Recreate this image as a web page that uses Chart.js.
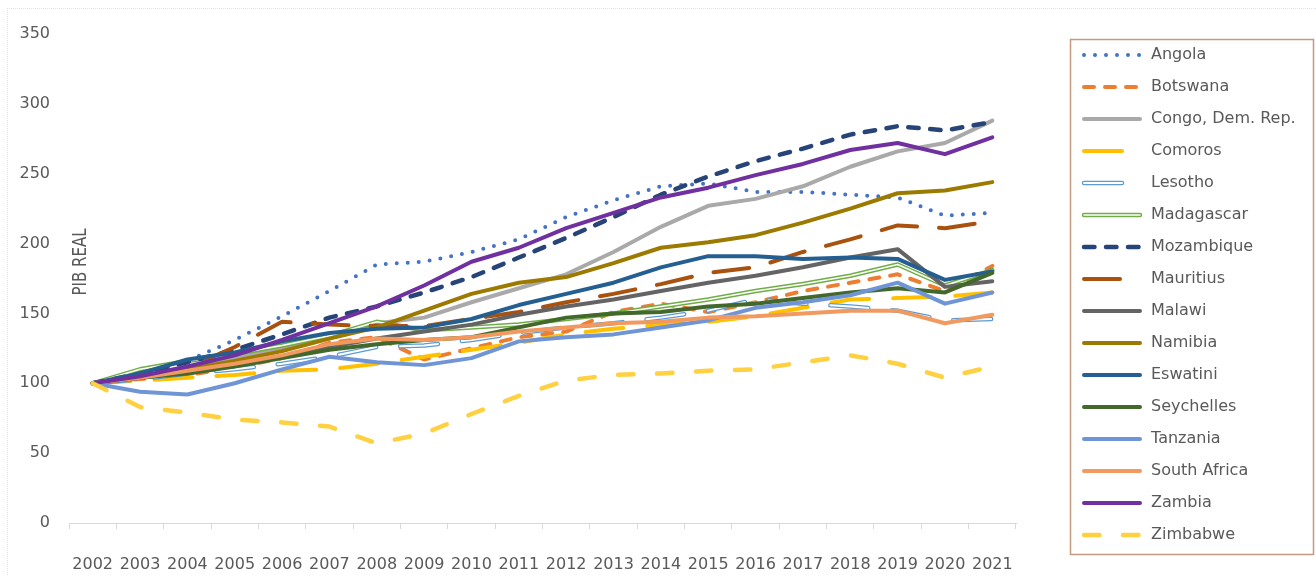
<!DOCTYPE html>
<html>
<head>
<meta charset="utf-8">
<title>PIB REAL</title>
<script src="https://cdn.jsdelivr.net/npm/chart.js@4.4.0/dist/chart.umd.min.js"></script>
<style>
  html, body { margin: 0; padding: 0; background: #fff; }
  #wrap { position: relative; width: 1316px; height: 575px; }
  #frame { position: absolute; left: 7px; top: 8px; right: 0; bottom: 0; border-left: 1px dotted #dbe5f2; border-top: 1px dotted #dbe5f2; }
  #myChart { position: relative; }
</style>
</head>
<body>
<div id="wrap"><div id="frame"></div><canvas id="myChart"></canvas></div>
<script>
var years = ["2002", "2003", "2004", "2005", "2006", "2007", "2008", "2009", "2010", "2011",
  "2012", "2013", "2014", "2015", "2016", "2017", "2018", "2019", "2020", "2021"];
var yTicks = [0, 50, 100, 150, 200, 250, 300, 350];

var angola = [100, 107, 116, 131, 148, 166, 185, 187, 194, 203, 219, 231, 241, 243, 237, 237, 235, 233, 220, 222];
var botswana = [100, 103, 106, 111, 118, 129, 133, 117, 125, 133, 137, 151, 157, 151, 158, 166, 172, 178, 166, 184];
var congo = [100, 105, 111, 118, 125, 134, 143, 147, 158, 168, 178, 194, 212, 227, 232, 241, 255, 266, 272, 288];
var comoros = [100, 102, 104, 106, 109, 110, 114, 119, 124, 129, 135, 139, 142, 144, 148, 154, 160, 161, 162, 165];
var lesotho = [100, 103, 107, 110, 114, 119, 126, 127, 131, 136, 140, 143, 147, 152, 160, 157, 155, 152, 145, 146];
var madagascar = [100, 110, 116, 121, 127, 134, 144, 138, 140, 142, 146, 150, 155, 160, 166, 171, 177, 185, 170, 181];
var mozambique = [100, 107, 115, 124, 135, 147, 155, 165, 176, 190, 204, 219, 235, 248, 259, 268, 278, 284, 281, 287];
var mauritius = [100, 104, 111, 126, 144, 142, 141, 141, 146, 151, 158, 164, 171, 179, 183, 194, 203, 213, 211, 216];
var malawi = [100, 104, 108, 113, 119, 126, 132, 137, 142, 149, 155, 160, 166, 172, 177, 183, 190, 196, 169, 173];
var namibia = [100, 105, 110, 116, 123, 132, 140, 152, 164, 172, 176, 186, 197, 201, 206, 215, 225, 236, 238, 244];
var eswatini = [100, 107, 117, 122, 130, 136, 139, 140, 146, 156, 164, 172, 183, 191, 191, 189, 190, 189, 174, 180];
var seychelles = [100, 104, 107, 112, 118, 124, 128, 131, 133, 140, 147, 150, 151, 155, 157, 161, 165, 168, 165, 179];
var tanzania = [100, 94, 92, 100, 110, 119, 115, 113, 118, 130, 133, 135, 140, 145, 154, 158, 163, 172, 157, 165];
var southAfrica = [100, 104, 109, 114, 120, 128, 132, 131, 133, 137, 140, 143, 144, 147, 148, 150, 152, 152, 143, 149];
var zambia = [100, 105, 112, 120, 131, 143, 155, 170, 187, 197, 211, 222, 233, 240, 249, 257, 267, 272, 264, 276];
var zimbabwe = [100, 83, 79, 74, 72, 69, 57, 64, 78, 91, 102, 106, 107, 109, 110, 115, 120, 114, 104, 112];

var names = ["Angola", "Botswana", "Congo, Dem. Rep.", "Comoros", "Lesotho", "Madagascar", "Mozambique",
  "Mauritius", "Malawi", "Namibia", "Eswatini", "Seychelles", "Tanzania", "South Africa", "Zambia", "Zimbabwe"];
var series = [angola, botswana, congo, comoros, lesotho, madagascar, mozambique, mauritius,
  malawi, namibia, eswatini, seychelles, tanzania, southAfrica, zambia, zimbabwe];

var colors = ["#4472c4", "#ed7d31", "#a9a9a9", "#ffc000", "#5b9bd5", "#70ad47", "#264478", "#a9520f",
  "#646464", "#9c7a00", "#255e91", "#43682b", "#6f95d6", "#f1995f", "#7030a0", "#ffd040"];
var widths = [4, 4, 4, 4, 4.5, 4.5, 4.5, 4, 4, 4, 4, 4, 4, 4, 4, 4.5];
var inner = [0, 0, 0, 0, 2, 1.5, 0, 0, 0, 0, 0, 0, 0, 0, 0, 0];
var dashes = [[0, 11], [10, 11], [], [38, 24], [38, 24], [], [10.5, 11.5], [36, 22],
  [], [], [], [], [], [], [], [15.5, 23.5]];

var textGray = "#595959";
var fontFam = "'DejaVu Sans'";
Chart.defaults.font.family = fontFam;
Chart.defaults.color = textGray;

// legend samples drawn the same way as the lines
function sample(i) {
  var c = document.createElement("canvas");
  c.width = 62; c.height = 10;
  var g = c.getContext("2d");
  g.lineCap = "round";
  g.lineWidth = widths[i];
  g.strokeStyle = colors[i];
  g.setLineDash(dashes[i]);
  g.beginPath(); g.moveTo(3, 5); g.lineTo(59, 5); g.stroke();
  if (inner[i]) {
    g.lineWidth = inner[i];
    g.strokeStyle = "#fff";
    g.beginPath(); g.moveTo(3, 5); g.lineTo(59, 5); g.stroke();
  }
  return c;
}

var datasets = series.map(function (d, i) {
  return {
    label: names[i],
    data: d,
    borderColor: colors[i],
    backgroundColor: colors[i],
    borderWidth: widths[i],
    borderDash: dashes[i],
    borderCapStyle: "round",
    borderJoinStyle: "round",
    pointRadius: 0,
    tension: 0,
    fill: false,
    order: 100 - i
  };
});
// white core for the double lines
series.forEach(function (d, i) {
  if (!inner[i]) return;
  datasets.push({
    label: names[i] + " core",
    data: d,
    borderColor: "#ffffff",
    borderWidth: inner[i],
    borderDash: dashes[i],
    borderCapStyle: "round",
    borderJoinStyle: "round",
    pointRadius: 0,
    tension: 0,
    fill: false,
    order: 100 - i - 0.5
  });
});

var extras = {
  id: "extras",
  afterDraw: function (chart) {
    var ctx = chart.ctx;
    ctx.save();
    ctx.strokeStyle = "#c59a7c";
    ctx.lineWidth = 1.5;
    ctx.strokeRect(1070.5, 39.5, 243, 515);
    ctx.translate(81, 262);
    ctx.rotate(-Math.PI / 2);
    ctx.scale(1, 1.35);
    ctx.fillStyle = textGray;
    ctx.font = "15px " + fontFam;
    ctx.textAlign = "center";
    ctx.textBaseline = "middle";
    ctx.fillText("PIB REAL", 0, 0);
    ctx.restore();
  }
};

var chart = new Chart("myChart", {
  type: "line",
  data: { labels: years, datasets: datasets },
  plugins: [extras],
  options: {
    responsive: true,
    maintainAspectRatio: false,
    animation: false,
    layout: { padding: { top: 31, left: 19.5, right: 10, bottom: 2 } },
    plugins: {
      tooltip: { enabled: false },
      title: { display: false },
      legend: {
        position: "right",
        align: "start",
        maxWidth: 400,
        labels: {
          usePointStyle: true,
          pointStyleWidth: 62,
          padding: 16,
          color: textGray,
          font: { size: 16 },
          generateLabels: function () {
            return names.map(function (n, i) {
              return {
                text: n, pointStyle: sample(i), fontColor: textGray,
                lineWidth: 0, strokeStyle: "rgba(0,0,0,0)", fillStyle: "rgba(0,0,0,0)",
                datasetIndex: i, hidden: false
              };
            });
          }
        }
      }
    },
    scales: {
      x: {
        offset: true,
        ticks: { font: { size: 16 }, color: textGray, padding: 26, maxRotation: 0, autoSkip: false },
        grid: { display: true, drawOnChartArea: false, drawTicks: true, tickLength: 6, color: "#d9d9d9", offset: true },
        border: { display: true, color: "#d9d9d9", width: 1 }
      },
      xTop: {
        type: "category", position: "top", axis: "x",
        ticks: { display: false }, grid: { display: false }, border: { display: false },
        afterFit: function (s) { s.height = 3; }
      },
      y: {
        min: yTicks[0],
        max: yTicks[yTicks.length - 1],
        afterBuildTicks: function (s) { s.ticks = yTicks.map(function (v) { return { value: v }; }); },
        ticks: { font: { size: 16 }, color: textGray, padding: 19 },
        grid: { display: false, drawTicks: false },
        border: { display: false }
      },
      yRight: {
        type: "linear", position: "right",
        ticks: { display: false }, grid: { display: false }, border: { display: false },
        afterFit: function (s) { s.width = 49; }
      }
    }
  }
});

// nudge paddings so the plot box sits where the reference has it
var pad = chart.options.layout.padding;
pad.left -= chart.chartArea.left - 69;
pad.right += chart.legend.left - 1065;
pad.bottom += chart.chartArea.bottom - 523;
chart.update("none");
var top0 = chart.chartArea.top;
if (Math.abs(top0 - 34) > 0.5) {
  chart.options.scales.xTop.afterFit = function (s) { s.height = Math.max(0, 3 + 34 - top0); };
  chart.update("none");
}
</script>
</body>
</html>
